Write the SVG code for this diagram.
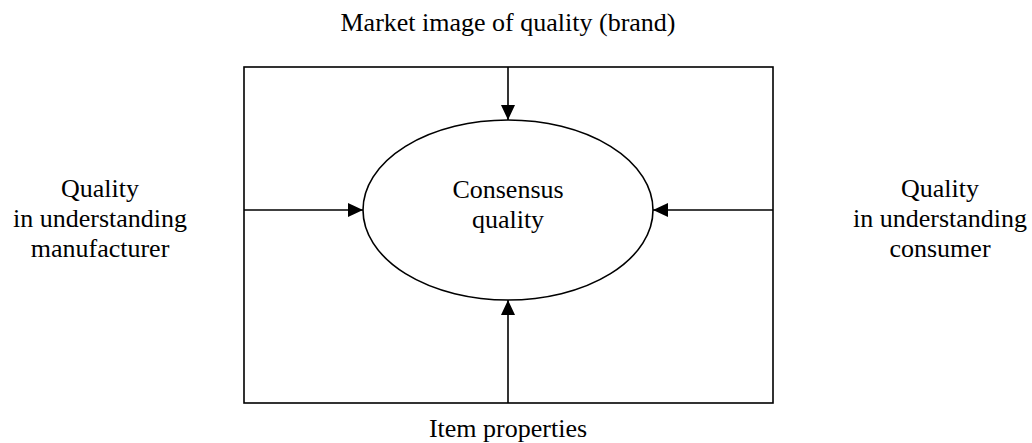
<svg xmlns="http://www.w3.org/2000/svg" width="1032" height="443" viewBox="0 0 1032 443">
<style>
text{font-family:"Liberation Serif","Times New Roman",serif;font-size:26px;fill:#000;text-anchor:middle}
.ln{stroke:#000;stroke-width:1.6;fill:none}
</style>
<defs>
<marker id="ah" viewBox="0 0 10 10" refX="10" refY="5" markerWidth="15" markerHeight="14" markerUnits="userSpaceOnUse" orient="auto" preserveAspectRatio="none">
<path d="M0,0 L10,5 L0,10 Z" fill="#000"/>
</marker>
</defs>
<rect width="1032" height="443" fill="#fff"/>
<g id="frame"><rect class="ln" x="244" y="67" width="529" height="336"/></g>
<g id="consensus">
<ellipse class="ln" cx="508" cy="210" rx="145" ry="90"/>
<text x="508" y="198">Consensus</text>
<text x="508" y="228">quality</text>
</g>
<g id="market"><text x="508" y="31">Market image of quality (brand)</text></g>
<g id="manufacturer">
<text x="100" y="197">Quality</text>
<text x="100" y="227">in understanding</text>
<text x="100" y="257">manufacturer</text>
</g>
<g id="consumer">
<text x="940" y="197">Quality</text>
<text x="940" y="227">in understanding</text>
<text x="940" y="257">consumer</text>
</g>
<g id="item"><text x="508" y="437">Item properties</text></g>
<g id="connectors">
<line class="ln" x1="508" y1="67" x2="508" y2="120" marker-end="url(#ah)"/>
<line class="ln" x1="508" y1="403" x2="508" y2="300" marker-end="url(#ah)"/>
<line class="ln" x1="244" y1="210" x2="363" y2="210" marker-end="url(#ah)"/>
<line class="ln" x1="773" y1="210" x2="653" y2="210" marker-end="url(#ah)"/>
</g>
</svg>
